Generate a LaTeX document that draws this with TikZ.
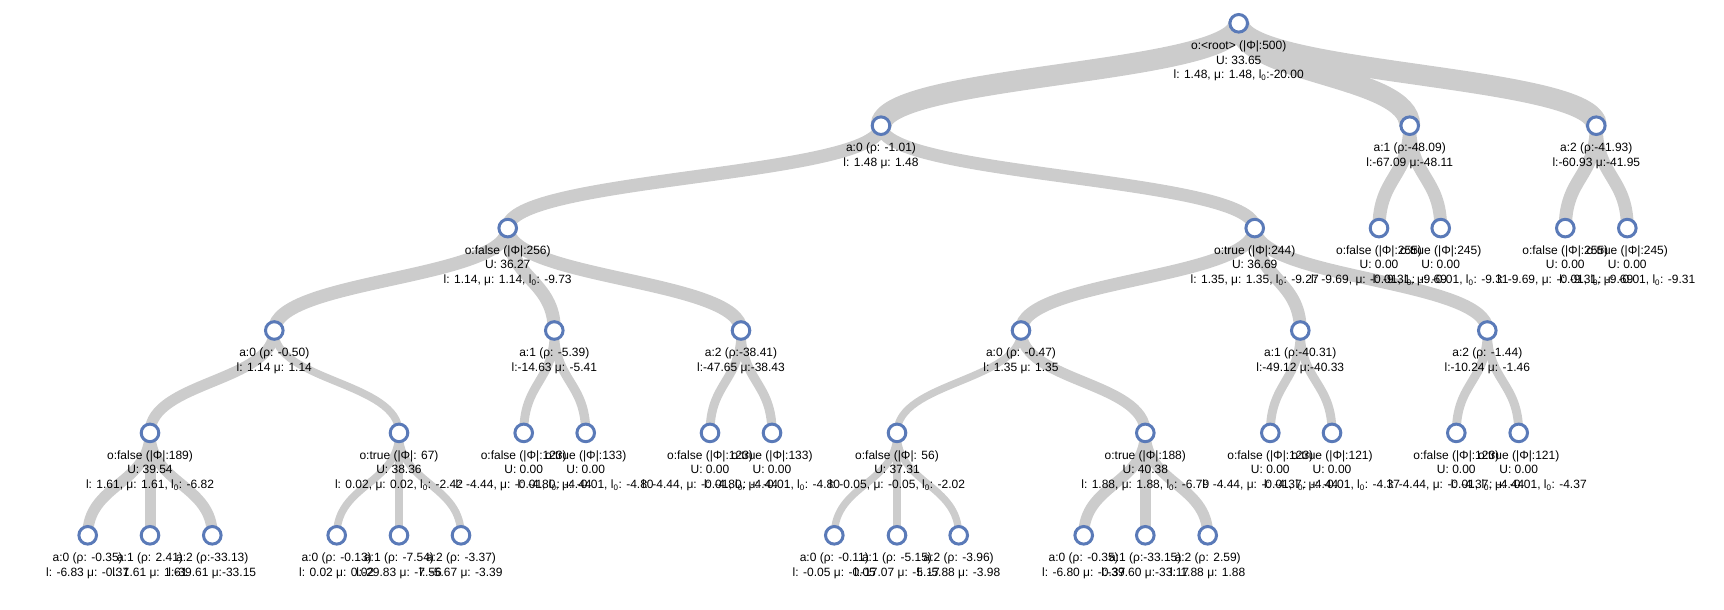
\documentclass[tikz,border=0pt]{standalone}
\usepackage{fontspec}
\setmainfont{Liberation Sans}
\pgfdeclarelayer{bg}
\pgfsetlayers{bg,main}
\definecolor{nodeblue}{RGB}{90,122,184}
\definecolor{edgegray}{RGB}{204,204,204}
\tikzset{
  circnode/.style={circle,draw=nodeblue,line width=3pt,fill=white,minimum size=17.6pt,inner sep=0pt},
  lbl/.style={anchor=north,inner sep=0pt,align=center,font=\fontsize{12}{14.7}\selectfont},
  lnkstyle/.style={draw=edgegray}
}
\newcommand\lzero{l\textsubscript{0}}
\newcommand\mknode[4]{\node[circnode] (#1) at (#2,#3) {}; \node[lbl] (#1t) at (#2,#3+15.7) {\strut #4};}
\newcommand\lnk[3]{\begin{pgfonlayer}{bg}\draw[lnkstyle,line width=#3pt] (#1.center) .. controls +(0,51.2) and +(0,-51.2) .. (#2.center);\end{pgfonlayer}}
\begin{document}
\begin{tikzpicture}[x=1pt,y=-1pt]
\useasboundingbox (0,0) rectangle (1724,610);
% level 0
\mknode{R}{1238.7}{23.3}{o:<root> (|Φ|:500)\\U: 33.65\\l: 1.48, μ: 1.48, \lzero:-20.00}
% level 1
\mknode{A0}{881}{125.7}{a:0 (ρ: -1.01)\\l: 1.48 μ: 1.48}
\mknode{A1}{1409.7}{125.7}{a:1 (ρ:-48.09)\\l:-67.09 μ:-48.11}
\mknode{A2}{1596.3}{125.7}{a:2 (ρ:-41.93)\\l:-60.93 μ:-41.95}
% level 2
\mknode{A0F}{507.7}{228.1}{o:false (|Φ|:256)\\U: 36.27\\l: 1.14, μ: 1.14, \lzero: -9.73}
\mknode{A0T}{1254.7}{228.1}{o:true (|Φ|:244)\\U: 36.69\\l: 1.35, μ: 1.35, \lzero: -9.27}
\mknode{A1F}{1379}{228.1}{o:false (|Φ|:255)\\U: 0.00\\l: -9.69, μ: -0.01, \lzero: -9.69}
\mknode{A1T}{1440.7}{228.1}{o:true (|Φ|:245)\\U: 0.00\\l: -9.31, μ: -0.01, \lzero: -9.31}
\mknode{A2F}{1565.3}{228.1}{o:false (|Φ|:255)\\U: 0.00\\l: -9.69, μ: -0.01, \lzero: -9.69}
\mknode{A2T}{1627.3}{228.1}{o:true (|Φ|:245)\\U: 0.00\\l: -9.31, μ: -0.01, \lzero: -9.31}
% level 3
\mknode{FA0}{274.3}{330.5}{a:0 (ρ: -0.50)\\l: 1.14 μ: 1.14}
\mknode{FA1}{554.3}{330.5}{a:1 (ρ: -5.39)\\l:-14.63 μ: -5.41}
\mknode{FA2}{741}{330.5}{a:2 (ρ:-38.41)\\l:-47.65 μ:-38.43}
\mknode{TA0}{1021}{330.5}{a:0 (ρ: -0.47)\\l: 1.35 μ: 1.35}
\mknode{TA1}{1300.3}{330.5}{a:1 (ρ:-40.31)\\l:-49.12 μ:-40.33}
\mknode{TA2}{1487.3}{330.5}{a:2 (ρ: -1.44)\\l:-10.24 μ: -1.46}
% level 4
\mknode{FA0F}{150}{432.9}{o:false (|Φ|:189)\\U: 39.54\\l: 1.61, μ: 1.61, \lzero: -6.82}
\mknode{FA0T}{399}{432.9}{o:true (|Φ|: 67)\\U: 38.36\\l: 0.02, μ: 0.02, \lzero: -2.42}
\mknode{FA1F}{523.7}{432.9}{o:false (|Φ|:123)\\U: 0.00\\l: -4.44, μ: -0.01, \lzero: -4.44}
\mknode{FA1T}{585.7}{432.9}{o:true (|Φ|:133)\\U: 0.00\\l: -4.80, μ: -0.01, \lzero: -4.80}
\mknode{FA2F}{710}{432.9}{o:false (|Φ|:123)\\U: 0.00\\l: -4.44, μ: -0.01, \lzero: -4.44}
\mknode{FA2T}{772}{432.9}{o:true (|Φ|:133)\\U: 0.00\\l: -4.80, μ: -0.01, \lzero: -4.80}
\mknode{TA0F}{897}{432.9}{o:false (|Φ|: 56)\\U: 37.31\\l: -0.05, μ: -0.05, \lzero: -2.02}
\mknode{TA0T}{1145.3}{432.9}{o:true (|Φ|:188)\\U: 40.38\\l: 1.88, μ: 1.88, \lzero: -6.79}
\mknode{TA1F}{1270.3}{432.9}{o:false (|Φ|:123)\\U: 0.00\\l: -4.44, μ: -0.01, \lzero: -4.44}
\mknode{TA1T}{1332}{432.9}{o:true (|Φ|:121)\\U: 0.00\\l: -4.37, μ: -0.01, \lzero: -4.37}
\mknode{TA2F}{1456.3}{432.9}{o:false (|Φ|:123)\\U: 0.00\\l: -4.44, μ: -0.01, \lzero: -4.44}
\mknode{TA2T}{1518.7}{432.9}{o:true (|Φ|:121)\\U: 0.00\\l: -4.37, μ: -0.01, \lzero: -4.37}
% level 5
\mknode{FA0FA0}{87.7}{535.3}{a:0 (ρ: -0.35)\\l: -6.83 μ: -0.37}
\mknode{FA0FA1}{150}{535.3}{a:1 (ρ: 2.41)\\l: 1.61 μ: 1.61}
\mknode{FA0FA2}{212.3}{535.3}{a:2 (ρ:-33.13)\\l:-39.61 μ:-33.15}
\mknode{FA0TA0}{336.7}{535.3}{a:0 (ρ: -0.13)\\l: 0.02 μ: 0.02}
\mknode{FA0TA1}{399}{535.3}{a:1 (ρ: -7.54)\\l:-29.83 μ: -7.56}
\mknode{FA0TA2}{461}{535.3}{a:2 (ρ: -3.37)\\l: -5.67 μ: -3.39}
\mknode{TA0FA0}{834.3}{535.3}{a:0 (ρ: -0.11)\\l: -0.05 μ: -0.05}
\mknode{TA0FA1}{897}{535.3}{a:1 (ρ: -5.15)\\l:-17.07 μ: -5.17}
\mknode{TA0FA2}{958.7}{535.3}{a:2 (ρ: -3.96)\\l: -5.88 μ: -3.98}
\mknode{TA0TA0}{1083.7}{535.3}{a:0 (ρ: -0.35)\\l: -6.80 μ: -0.37}
\mknode{TA0TA1}{1145.3}{535.3}{a:1 (ρ:-33.15)\\l:-39.60 μ:-33.17}
\mknode{TA0TA2}{1207.7}{535.3}{a:2 (ρ: 2.59)\\l: 1.88 μ: 1.88}
% links
\lnk{R}{A0}{21}\lnk{R}{A1}{21}\lnk{R}{A2}{21}
\lnk{A0}{A0F}{13.2}\lnk{A0}{A0T}{12.8}
\lnk{A1}{A1F}{13.2}\lnk{A1}{A1T}{12.8}
\lnk{A2}{A2F}{13.2}\lnk{A2}{A2T}{12.8}
\lnk{A0F}{FA0}{13.2}\lnk{A0F}{FA1}{13.2}\lnk{A0F}{FA2}{13.2}
\lnk{A0T}{TA0}{12.8}\lnk{A0T}{TA1}{12.8}\lnk{A0T}{TA2}{12.8}
\lnk{FA0}{FA0F}{11}\lnk{FA0}{FA0T}{7.6}
\lnk{FA1}{FA1F}{8.9}\lnk{FA1}{FA1T}{9.3}
\lnk{FA2}{FA2F}{8.9}\lnk{FA2}{FA2T}{9.3}
\lnk{TA0}{TA0F}{7.3}\lnk{TA0}{TA0T}{11}
\lnk{TA1}{TA1F}{8.9}\lnk{TA1}{TA1T}{8.9}
\lnk{TA2}{TA2F}{8.9}\lnk{TA2}{TA2T}{8.9}
\lnk{FA0F}{FA0FA0}{11}\lnk{FA0F}{FA0FA1}{11}\lnk{FA0F}{FA0FA2}{11}
\lnk{FA0T}{FA0TA0}{7.6}\lnk{FA0T}{FA0TA1}{7.6}\lnk{FA0T}{FA0TA2}{7.6}
\lnk{TA0F}{TA0FA0}{7.3}\lnk{TA0F}{TA0FA1}{7.3}\lnk{TA0F}{TA0FA2}{7.3}
\lnk{TA0T}{TA0TA0}{11}\lnk{TA0T}{TA0TA1}{11}\lnk{TA0T}{TA0TA2}{11}
\end{tikzpicture}
\end{document}
